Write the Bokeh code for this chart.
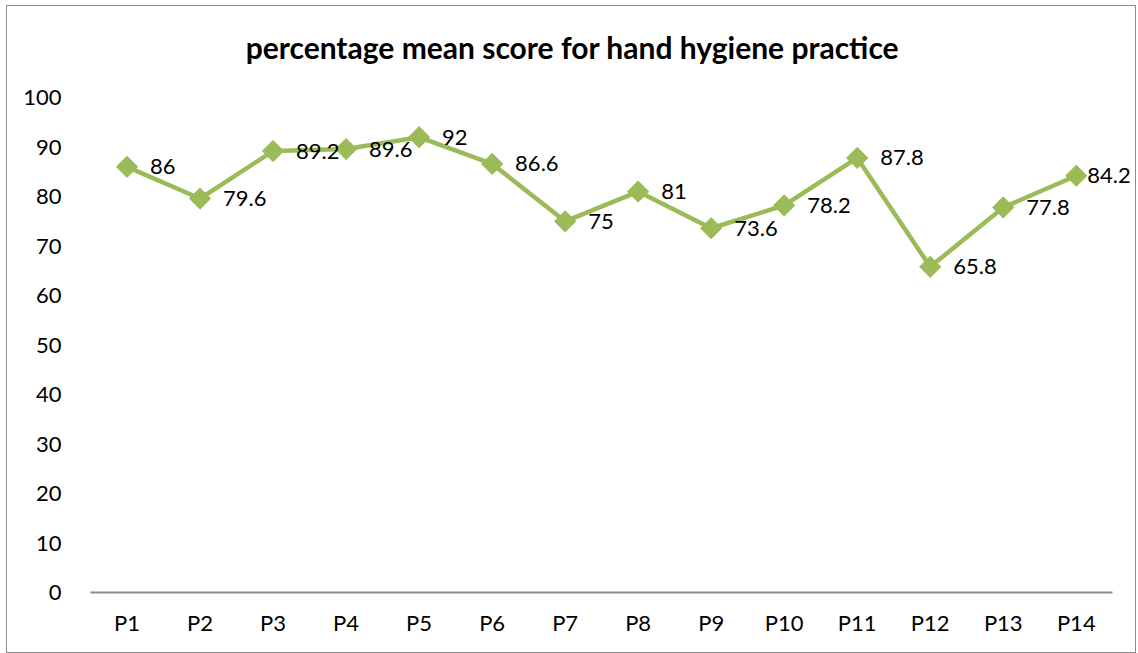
import math
from bokeh.plotting import figure
from bokeh.models import ColumnDataSource, LabelSet, Label, Range1d, FixedTicker
from bokeh.core.properties import value
from bokeh.embed import file_html
from bokeh.resources import INLINE

title_text = "percentage mean score for hand hygiene practice"
categories = ["P1", "P2", "P3", "P4", "P5", "P6", "P7", "P8", "P9", "P10", "P11", "P12", "P13", "P14"]
scores = [86, 79.6, 89.2, 89.6, 92, 86.6, 75, 81, 73.6, 78.2, 87.8, 65.8, 77.8, 84.2]
score_labels = ["86", "79.6", "89.2", "89.6", "92", "86.6", "75", "81", "73.6", "78.2", "87.8", "65.8", "77.8", "84.2"]
y_ticks = [0, 10, 20, 30, 40, 50, 60, 70, 80, 90, 100]

FONT = "Lato"
GREEN = "#9BBB59"

# category slots on a numeric axis (1..N)
pos = list(range(1, len(categories) + 1))
src = ColumnDataSource(dict(x=pos, val=scores, lab=score_labels))
src_inner = ColumnDataSource(dict(x=pos[:-1], val=scores[:-1], lab=score_labels[:-1]))

# frame reaches up to the top of the chart so the title can sit inside it
p = figure(x_range=Range1d(0.5, len(categories) + 0.77), y_range=Range1d(0, 118.4),
           width=1130, height=648,
           output_backend="svg", toolbar_location=None,
           min_border_left=83, min_border_right=5, min_border_top=0, min_border_bottom=62)
p.styles = {"border": "1px solid #8c8c8c", "box-sizing": "border-box",
            "margin-left": "6px", "margin-top": "5px"}
p.outline_line_color = None
p.background_fill_color = "white"
p.border_fill_color = "white"
p.grid.visible = False

p.add_layout(Label(x=7.1, y=110.3, text=title_text, text_align="center",
                   text_baseline="middle", text_font=FONT, text_font_size="30px",
                   text_font_style="bold", text_color="black"))

p.line("x", "val", source=src, line_color=GREEN, line_width=4.5)
p.scatter("x", "val", source=src, marker="square", angle=math.pi / 4, size=15,
          fill_color=GREEN, line_color=GREEN)

labels = LabelSet(x="x", y="val", text="lab", source=src_inner, x_offset=23, y_offset=0,
                  text_align="left", text_baseline="middle", text_font_size="22px",
                  text_color="black", text_font=value(FONT))
p.add_layout(labels)
# the last label is pulled in towards its point so it fits inside the chart
p.add_layout(Label(x=pos[-1], y=scores[-1], text=score_labels[-1], x_offset=11,
                   text_align="left", text_baseline="middle", text_font_size="22px",
                   text_color="black", text_font=FONT))

p.yaxis.ticker = FixedTicker(ticks=y_ticks)
p.yaxis.axis_line_color = None
p.yaxis.major_tick_line_color = None
p.yaxis.minor_tick_line_color = None
p.yaxis.major_label_standoff = 23
p.yaxis.major_label_text_font = FONT
p.yaxis.major_label_text_font_size = "22px"
p.yaxis.major_label_text_color = "black"

p.xaxis.ticker = FixedTicker(ticks=pos)
p.xaxis.major_label_overrides = {k: c for k, c in zip(pos, categories)}
p.xaxis.bounds = (0.5, len(categories) + 0.5)
p.xaxis.axis_line_color = "#8c8c8c"
p.xaxis.axis_line_width = 2
p.xaxis.major_tick_line_color = None
p.xaxis.minor_tick_line_color = None
p.xaxis.major_label_standoff = 10
p.xaxis.major_label_text_font = FONT
p.xaxis.major_label_text_font_size = "22px"
p.xaxis.major_label_text_color = "black"

open("out.html", "w").write(file_html(p, INLINE))
